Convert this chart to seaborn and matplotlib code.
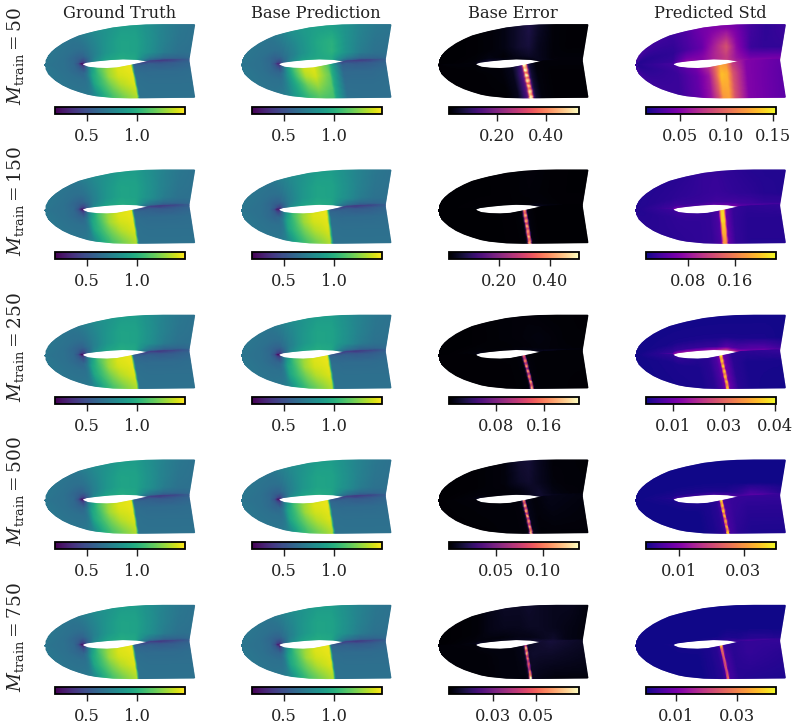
import numpy as np
import pandas as pd
import matplotlib
matplotlib.use("Agg")
import matplotlib.pyplot as plt
from matplotlib.colors import Normalize
from matplotlib.cm import ScalarMappable
import seaborn as sns

sns.set_theme(style="ticks")
plt.rcParams["font.family"] = ["DejaVu Serif"]
plt.rcParams["mathtext.fontset"] = "dejavuserif"

FIG_W, FIG_H = 798, 727

COLUMN_TITLES = ["Ground Truth", "Base Prediction", "Base Error", "Predicted Std"]
M_TRAIN = [50, 150, 250, 500, 750]
COLUMN_TIPS = [46, 242.3, 439.3, 636.7]
COLUMN_BARS = [55, 252, 449, 646]
ROW_TIPS = [65, 210.4, 355.6, 500.4, 645.7]
ROW_BARS = [107, 252, 397, 542, 687]

# Domain outline
OUT_X = [0, 1, 3, 6, 10, 17, 25, 33, 42, 50, 67, 84, 100, 117, 135, 148]
OUT_UP = [0, 5, 9, 12.5, 16, 20.8, 25, 28.5, 31, 33, 36.5, 38.5, 39.5, 39.8, 39.8, 39.8]
OUT_LO = [0, 4.5, 8.5, 11.5, 15, 19.5, 23.2, 26, 28.7, 30.2, 31.9, 32.3, 32.2, 32, 31.8, 31.7]
# Airfoil surfaces and wake line
WALL_UP_X = [0, 35.7, 37, 40.7, 50.7, 64, 77, 91, 104, 142.3]
WALL_UP_Y = [0, 0.7, 2.2, 3.4, 4.7, 6.0, 6.7, 6.2, 4.2, 5]
WALL_LO_X = [0, 35.7, 37, 42, 51, 61, 71, 84, 94, 104, 142.3]
WALL_LO_Y = [0, 0.7, -0.8, -2.8, -3.8, -4.1, -3.5, -1.0, 1.1, 3.5, 5]

# Mach-like field tables: rows follow ETA_*, columns follow X*
ETA_U = [0, 0.08, 0.25, 0.55, 1]
ETA_L = [0, 0.08, 0.3, 0.6, 1]
XU = [0, 18, 28, 33, 36, 40, 48, 60, 75, 90, 105, 120, 135, 148]
XL = [0, 18, 28, 33, 36, 40, 45, 52, 62, 72, 86, 88.5, 100, 115, 130, 148]

TRUE_U = [
    [.68, .66, .62, .50, .20, .52, .80, .93, .98, .95, .50, .37, .42, .55],
    [.68, .66, .62, .54, .42, .55, .76, .90, .97, .95, .68, .60, .60, .62],
    [.69, .66, .61, .58, .58, .64, .74, .86, .94, .93, .82, .72, .67, .66],
    [.69, .67, .65, .65, .66, .69, .76, .86, .94, .93, .83, .74, .68, .67],
    [.69, .68, .68, .70, .72, .74, .80, .85, .90, .90, .82, .74, .69, .67],
]
TRUE_L = [
    [.68, .66, .62, .50, .20, .60, .85, 1.08, 1.28, 1.40, 1.45, .58, .45, .40, .45, .55],
    [.68, .66, .62, .54, .42, .62, .88, 1.10, 1.30, 1.42, 1.45, .62, .58, .55, .56, .60],
    [.69, .66, .62, .60, .62, .72, .95, 1.08, 1.30, 1.40, 1.44, .65, .63, .63, .63, .64],
    [.69, .67, .66, .66, .67, .72, .95, 1.06, 1.22, 1.34, 1.42, .66, .65, .65, .65, .65],
    [.69, .68, .68, .69, .70, .74, .84, .98, 1.12, 1.22, 1.34, .66, .66, .66, .66, .66],
]
PRED_50_U = [
    [.68, .66, .62, .50, .30, .55, .78, .92, .98, .98, .52, .38, .42, .55],
    [.68, .66, .62, .54, .44, .58, .74, .88, .95, .98, .70, .60, .60, .62],
    [.69, .66, .61, .58, .60, .65, .72, .84, .95, 1.02, .84, .72, .67, .66],
    [.69, .67, .66, .66, .67, .69, .75, .85, .96, 1.01, .84, .74, .68, .67],
    [.69, .68, .68, .70, .72, .75, .82, .88, .92, .92, .84, .75, .70, .68],
]
PRED_50_L = [
    [.68, .66, .62, .50, .30, .58, .85, 1.10, 1.38, 1.42, 1.15, 1.00, .47, .42, .45, .55],
    [.68, .66, .62, .54, .44, .62, .88, 1.12, 1.38, 1.42, 1.15, 1.00, .58, .55, .56, .60],
    [.69, .66, .62, .60, .62, .72, .88, 1.08, 1.33, 1.40, 1.18, 1.00, .62, .62, .62, .64],
    [.69, .67, .66, .66, .68, .74, .86, 1.00, 1.20, 1.30, 1.15, .98, .64, .64, .64, .65],
    [.69, .68, .68, .70, .72, .76, .85, .95, 1.08, 1.15, 1.10, .95, .66, .65, .65, .65],
]

# Shock foot position, lean across the layer and thickness for each row
TRUE_SHOCK = [85.7, 86.2, 85.7, 86.0, 86.5]
TRUE_LEAN = [6.3, 5.0, 6.0, 5.0, 5.0]
PRED_SHOCK = [86.0, 84.7, 85.5, 85.7, 87.0]
PRED_LEAN = [6.0, 3.8, 5.0, 5.0, 4.6]
PRED_WIDTH = [2.5, 3.2, 2.5, 2.5, 2.3]

# Residual field tables
RES_ETA_U = [0, 0.1, 0.4, 1]
RES_ETA_L = [0, 0.3, 1]
RES_XU = [0, 36, 50, 65, 80, 90, 100, 115, 130, 148]
RES_XL = [0, 40, 60, 72, 80, 84, 90, 96, 110, 148]

ERR_U = {
    50: [[0, .03, .05, .02, .02, .02, .03, .02, .01, .01],
         [0, .01, .02, .01, .03, .04, .03, .01, .01, .01],
         [0, .005, .01, .02, .05, .06, .03, .01, .005, .005],
         [0, .005, .01, .02, .05, .07, .04, .01, .005, .005]],
    150: [[0, .01, .005, .005, .005, .01, .03, .03, .005, .005],
          [0, .005, .003, .003, .005, .005, .01, .005, .003, .003],
          [0, .002, .002, .003, .006, .008, .006, .003, .002, .002],
          [0, .002, .002, .003, .006, .01, .008, .003, .002, .002]],
    250: [[0, .012, .004, .004, .006, .008, .012, .02, .012, .012],
          [0, .004, .002, .002, .003, .004, .005, .004, .003, .002],
          [0, .001, .002, .003, .004, .005, .006, .004, .002, .002],
          [0, .001, .002, .003, .004, .004, .003, .002, .002, .001]],
    500: [[0, .008, .003, .003, .004, .008, .012, .012, .008, .006],
          [0, .003, .002, .002, .004, .008, .012, .005, .003, .002],
          [0, .001, .002, .003, .01, .012, .008, .003, .002, .002],
          [0, .001, .002, .003, .012, .014, .008, .002, .002, .001]],
    750: [[0, .006, .003, .003, .004, .005, .008, .008, .006, .003],
          [0, .002, .002, .002, .003, .003, .004, .006, .003, .002],
          [0, .001, .003, .004, .004, .005, .005, .004, .003, .002],
          [0, .001, .003, .005, .005, .006, .005, .004, .004, .002]],
}
ERR_L = {
    50: [[.01, .01, .01, .03, .10, .20, .05, .01, .01, .01],
         [.005, .005, .01, .03, .12, .20, .05, .015, .005, .005],
         [.005, .005, .005, .03, .12, .20, .05, .015, .005, .005]],
    150: [[.002, .002, .002, .003, .006, .03, .01, .002, .002, .002],
          [.001, .001, .002, .003, .008, .03, .01, .002, .001, .001],
          [.001, .001, .002, .003, .006, .03, .01, .002, .001, .001]],
    250: [[.001, .002, .002, .002, .003, .01, .004, .002, .002, .002],
          [.001, .001, .001, .002, .003, .01, .004, .002, .002, .002],
          [.001, .001, .001, .002, .003, .01, .004, .002, .002, .001]],
    500: [[.001, .003, .002, .002, .003, .008, .005, .003, .006, .004],
          [.001, .002, .002, .002, .003, .008, .005, .003, .005, .003],
          [.001, .001, .002, .002, .003, .008, .005, .002, .002, .002]],
    750: [[.001, .002, .002, .002, .003, .005, .005, .006, .008, .005],
          [.001, .001, .002, .002, .003, .005, .006, .006, .006, .004],
          [.001, .001, .002, .002, .002, .005, .004, .003, .002, .002]],
}
STD_U = {
    50: [[.02, .03, .055, .05, .07, .08, .065, .055, .055, .05],
         [.02, .025, .045, .05, .07, .08, .06, .045, .045, .045],
         [.019, .022, .03, .04, .07, .09, .055, .026, .023, .023],
         [.028, .026, .033, .045, .05, .05, .045, .028, .022, .026]],
    150: [[.016, .06, .035, .035, .045, .05, .06, .05, .05, .045],
          [.016, .03, .026, .026, .03, .03, .032, .03, .025, .025],
          [.016, .02, .022, .024, .026, .024, .022, .02, .017, .016],
          [.016, .018, .02, .024, .025, .022, .02, .017, .016, .016]],
    250: [[.0025, .014, .014, .012, .014, .02, .016, .012, .013, .01],
          [.0025, .005, .005, .005, .005, .008, .007, .008, .008, .006],
          [.0025, .0028, .0028, .0028, .0028, .0028, .0028, .0028, .0028, .0025],
          [.0025, .0025, .0025, .0025, .0025, .0025, .0025, .0025, .0025, .0025]],
    500: [[.0002, .004, .003, .003, .004, .004, .005, .008, .008, .005],
          [.0002, .001, .001, .001, .001, .001, .002, .005, .004, .002],
          [.0002, .0002, .0002, .0002, .0002, .0002, .0002, .0002, .0002, .0002],
          [.0002, .0002, .0002, .0002, .0002, .0002, .0002, .0002, .0002, .0002]],
    750: [[.0002, .0004, .0004, .0004, .001, .002, .004, .007, .008, .006],
          [.0002, .0003, .0003, .0003, .0003, .001, .001, .002, .002, .0015],
          [.0002, .0002, .0002, .0002, .0002, .0002, .0002, .0002, .0002, .0002],
          [.0002, .0002, .0002, .0002, .0002, .0002, .0002, .0002, .0002, .0002]],
}
STD_L = {
    50: [[.02, .03, .045, .07, .105, .125, .12, .08, .05, .04],
         [.019, .026, .04, .06, .105, .135, .13, .09, .05, .038],
         [.026, .026, .04, .06, .09, .12, .125, .09, .05, .036]],
    150: [[.016, .03, .026, .024, .035, .055, .045, .025, .02, .024],
          [.016, .022, .022, .024, .035, .055, .045, .024, .018, .018],
          [.018, .02, .022, .024, .035, .055, .045, .024, .017, .017]],
    250: [[.0025, .005, .0035, .004, .007, .012, .008, .004, .004, .005],
          [.0025, .003, .003, .004, .007, .012, .008, .004, .0028, .0028],
          [.0025, .0028, .003, .004, .007, .012, .008, .004, .0028, .0025]],
    500: [[.0002, .001, .001, .001, .002, .005, .004, .003, .003, .003],
          [.0002, .0003, .0003, .001, .002, .005, .004, .003, .002, .002],
          [.0002, .0003, .0003, .001, .002, .005, .004, .002, .001, .001]],
    750: [[.0002, .0004, .0004, .001, .002, .004, .003, .002, .003, .003],
          [.0002, .0003, .0003, .001, .002, .005, .004, .002, .003, .002],
          [.0002, .0003, .0003, .001, .002, .005, .004, .002, .0015, .001]],
}

# Peak residual along the shock, from the wall (first) to the far field (last)
ERR_SPIKE = {
    50: [.36, .26, .38, .18, .38, .18, .36, .16, .32, .18, .35, .25, .34],
    150: [.38, .30, .42, .25, .42, .25, .42, .28, .40, .30, .42, .30, .40],
    250: [.14, .10, .17, .09, .18, .08, .18, .09, .17, .10, .18, .12, .17],
    500: [.10, .07, .12, .06, .12, .06, .12, .06, .11, .06, .11, .08, .11],
    750: [.035, .065, .04, .06, .035, .05, .03, .045, .035, .03, .05, .05, .07],
}
STD_SPIKE = {
    50: [0] * 13,
    150: [.155, .16, .16, .155, .16, .15, .15, .145, .14, .135, .13, .125, .12],
    250: [.028, .02, .026, .016, .028, .015, .027, .016, .025, .015, .025, .018, .024],
    500: [.034, .026, .032, .02, .034, .02, .032, .018, .03, .018, .03, .022, .032],
    750: [.034, .024, .022, .021, .02, .02, .019, .018, .018, .018, .018, .02, .022],
}
ERR_FOOT = [85.7, 85.7, 85.0, 85.0, 86.7]
ERR_LEAN = [6.5, 5.0, 8.0, 7.0, 5.0]
ERR_HALF = [3.0, 2.4, 2.0, 2.0, 1.8]
STD_FOOT = [85.0, 86.0, 84.7, 85.0, 85.0]
STD_LEAN = [3.0, 2.7, 6.6, 6.5, 6.7]
STD_HALF = [6.0, 3.6, 2.1, 2.0, 1.9]

# Colour ranges and colour bar ticks per panel
FIELD_RANGE = (0.173, 1.489)
FIELD_TICKS = [0.5, 1.0]
ERR_RANGE = [(0.0014, 0.5376), (0.0, 0.517), (0.0, 0.22), (0.0, 0.139), (0.0, 0.0744)]
ERR_TICKS = [[.2, .4], [.2, .4], [.08, .16], [.05, .1], [.025, .05]]
STD_RANGE = [(0.014, 0.1536), (0.0085, 0.229), (0.00215, 0.0403), (0.0, 0.04), (0.0, 0.0428)]
STD_TICKS = [[.05, .10, .15], [.08, .16], [.01, .025, .04], [.01, .03], [.01, .03]]


stations = np.linspace(0, 148, 150)
levels = np.linspace(0, 1, 30)
X_GRID, ETA_GRID = np.meshgrid(stations, levels)


def table_lookup(table, columns, etas, xq, etaq):
    """Bilinear lookup of a value table at mesh nodes."""
    rows = np.stack([np.interp(xq, columns, r) for r in np.asarray(table, float)])
    etas = np.asarray(etas, float)
    i = np.clip(np.searchsorted(etas, etaq, side="right") - 1, 0, len(etas) - 2)
    w = (etaq - etas[i]) / (etas[i + 1] - etas[i])
    a = np.take_along_axis(rows, i[None], axis=0)[0]
    b = np.take_along_axis(rows, (i + 1)[None], axis=0)[0]
    return a * (1 - w) + b * w


def mesh(sheet):
    """Mesh node positions of the upper or lower sheet of the domain."""
    if sheet == "upper":
        wall = np.interp(X_GRID, WALL_UP_X, WALL_UP_Y)
        outer = np.interp(X_GRID, OUT_X, OUT_UP)
    else:
        wall = np.interp(X_GRID, WALL_LO_X, WALL_LO_Y)
        outer = -np.interp(X_GRID, OUT_X, OUT_LO)
    y = wall + (outer - wall) * ETA_GRID
    end = 142.3 + 5.7 * ETA_GRID
    x = X_GRID + np.clip((X_GRID - 110) / 38, 0, 1) * (end - 148)
    return x, y


def flow_values(upper, lower, foot, lean, width):
    xv = np.interp(X_GRID - lean * ETA_GRID, [-20, foot, foot + width, 170], [-20, 86, 88.5, 170])
    return (table_lookup(upper, XU, ETA_U, X_GRID, ETA_GRID),
            table_lookup(lower, XL, ETA_L, xv, ETA_GRID))


def residual_values(upper, lower, spike, foot, lean, half):
    up = table_lookup(upper, RES_XU, RES_ETA_U, X_GRID, ETA_GRID)
    low = table_lookup(lower, RES_XL, RES_ETA_L, X_GRID - lean * ETA_GRID + (85 - foot), ETA_GRID)
    ridge = np.interp(ETA_GRID, np.linspace(0, 1, len(spike)), spike)
    shape = np.interp(X_GRID - lean * ETA_GRID,
                      [foot - half, foot - 0.4 * half, foot + 0.4 * half, foot + half],
                      [0, 1, 1, 0], left=0, right=0)
    return up, low + ridge * shape


def pixel_axes(left, top, width, height):
    return fig.add_axes([left / FIG_W, 1 - (top + height) / FIG_H, width / FIG_W, height / FIG_H])


fig = plt.figure(figsize=(FIG_W / 100, FIG_H / 100), dpi=100)
maps = ["viridis", "viridis", "magma", "plasma"]
x_up, y_up = mesh("upper")
x_lo, y_lo = mesh("lower")

for r, m in enumerate(M_TRAIN):
    for c in range(4):
        if c == 0:
            up, low = flow_values(TRUE_U, TRUE_L, TRUE_SHOCK[r], TRUE_LEAN[r], 2.0)
            vrange, ticks = FIELD_RANGE, FIELD_TICKS
        elif c == 1:
            tab_u = PRED_50_U if r == 0 else TRUE_U
            tab_l = PRED_50_L if r == 0 else TRUE_L
            up, low = flow_values(tab_u, tab_l, PRED_SHOCK[r], PRED_LEAN[r], PRED_WIDTH[r])
            vrange, ticks = FIELD_RANGE, FIELD_TICKS
        elif c == 2:
            up, low = residual_values(ERR_U[m], ERR_L[m], ERR_SPIKE[m], ERR_FOOT[r], ERR_LEAN[r], ERR_HALF[r])
            vrange, ticks = ERR_RANGE[r], ERR_TICKS[r]
        else:
            up, low = residual_values(STD_U[m], STD_L[m], STD_SPIKE[m], STD_FOOT[r], STD_LEAN[r], STD_HALF[r])
            vrange, ticks = STD_RANGE[r], STD_TICKS[r]

        cmap = sns.color_palette(maps[c], as_cmap=True)
        norm = Normalize(*vrange)
        frame = pd.DataFrame({
            "x": np.r_[x_up.ravel(), x_lo.ravel()],
            "y": np.r_[y_up.ravel(), y_lo.ravel()],
            "v": np.r_[up.ravel(), low.ravel()],
        })
        ax = pixel_axes(COLUMN_TIPS[c] - 2, ROW_TIPS[r] - 45, 154, 90)
        sns.scatterplot(data=frame, x="x", y="y", hue="v", palette=cmap, hue_norm=norm,
                        s=2.6, linewidth=0, legend=False, ax=ax)
        ax.set_xlim(-2, 152)
        ax.set_ylim(-45, 45)
        ax.axis("off")

        cax = pixel_axes(COLUMN_BARS[c], ROW_BARS[r], 130, 7)
        bar = fig.colorbar(ScalarMappable(norm=norm, cmap=cmap), cax=cax, orientation="horizontal")
        bar.set_ticks(ticks, labels=[f"{t:.2f}" if c >= 2 else f"{t:.1f}" for t in ticks])
        bar.ax.tick_params(length=5, width=1, labelsize=11.7, pad=5, color="#222222", labelcolor="#222222")
        bar.ax.minorticks_off()
        bar.outline.set_linewidth(1.3)
        bar.outline.set_edgecolor("black")

    fig.text(16 / FIG_W, 1 - (ROW_TIPS[r] - 9) / FIG_H, rf"$M_{{\mathrm{{train}}}} = {m}$",
             rotation=90, ha="center", va="center", fontsize=13.3, color="#222222")

for c, title in enumerate(COLUMN_TITLES):
    fig.text((COLUMN_TIPS[c] + 74) / FIG_W, 1 - 13 / FIG_H, title,
             ha="center", va="center", fontsize=11.7, color="#222222")

fig.savefig("out.png", dpi=100)
